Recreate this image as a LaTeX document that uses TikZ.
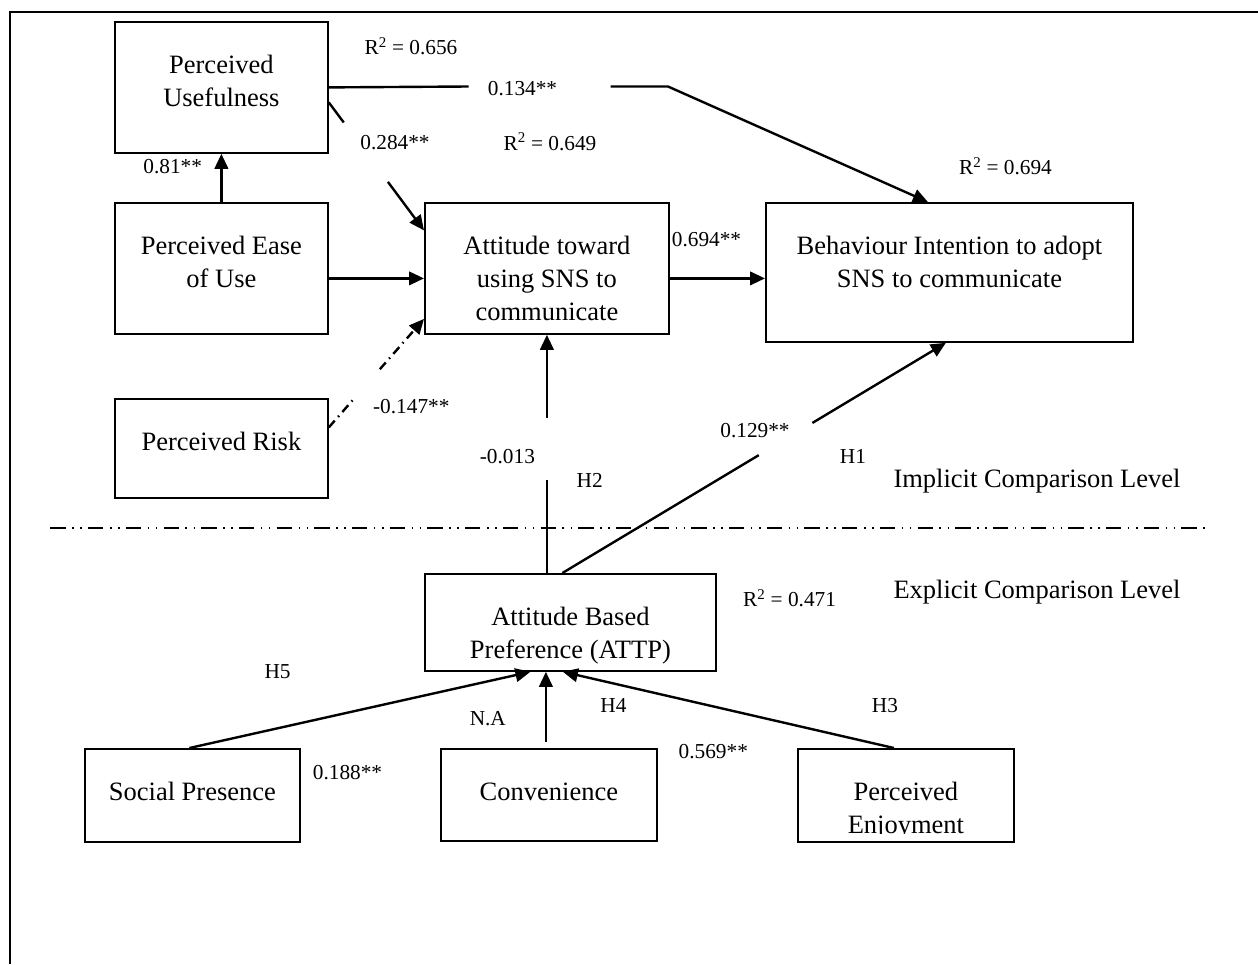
\documentclass[tikz,border=0pt]{standalone}
\usepackage{fontspec}
\setmainfont{Liberation Serif}
\usetikzlibrary{arrows.meta}
\newcommand\bigfnt{\fontsize{26.5pt}{32.7pt}\selectfont}
\newcommand\smlfnt{\fontsize{21.3pt}{25pt}\selectfont}
\newcommand\bxt[3]{\parbox[c][#2][t]{#1}{\centering\vspace*{29pt}\strut #3\par}}
\begin{document}
\begin{tikzpicture}[x=1pt,y=-1pt,
  bx/.style={draw, line width=1.8pt, inner sep=0pt, anchor=north west, font=\bigfnt},
  ln/.style={line width=2.4pt},
  arr/.style={line width=2.4pt, -{Triangle[length=15pt,width=13.5pt]}},
  lbl/.style={font=\smlfnt, inner sep=0pt, text height=14.5pt, text depth=0pt},
  lvl/.style={font=\bigfnt, inner sep=0pt, text height=18pt, text depth=0pt},
  dashdot/.style={line width=2.4pt, dash pattern=on 9pt off 5pt on 1.5pt off 5pt},
  sepline/.style={line width=2.2pt, dash pattern=on 15.3pt off 6.6pt on 1.5pt off 6.6pt on 1.5pt off 6.2pt}]
\useasboundingbox (0,0) rectangle (1258,964);

% outer frame (cropped)
\coordinate (fTR) at (1258,11.7);
\coordinate (fTL) at (9.8,11.7);
\coordinate (fBL) at (9.8,964);
\draw[line width=2.2pt] (fTR) -- (fTL) -- (fBL);

% boxes
\node[bx] (PU)   at (114,21)  {\bxt{213pt}{131pt}{Perceived\\Usefulness}};
\node[bx] (PEOU) at (114,202) {\bxt{213pt}{131pt}{Perceived Ease\\of Use}};
\node[bx] (Att)  at (424,202) {\bxt{244pt}{131pt}{Attitude toward\\using SNS to\\communicate}};
\node[bx] (BI)   at (765,202) {\bxt{367pt}{139pt}{Behaviour Intention to adopt\\SNS to communicate}};
\node[bx] (PR)   at (114,398) {\bxt{213pt}{99pt}{Perceived Risk}};
\node[bx] (ATTP) at (424,573) {\bxt{291pt}{97pt}{Attitude Based\\Preference (ATTP)}};
\node[bx] (SP)   at (84,748)  {\bxt{215pt}{93pt}{Social Presence}};
\node[bx] (Conv) at (440,748) {\bxt{216pt}{92pt}{Convenience}};
\begin{scope}
  \clip (770,735) rectangle (1040,833)
        (770,839) rectangle (1040,860)
        (770,833) rectangle (799,839)
        (1011,833) rectangle (1040,839);
  \node[bx] (PE) at (797,748) {\bxt{216pt}{93pt}{Perceived\\Enjoyment}};
\end{scope}

% separator between levels
\coordinate (s1) at (50.4,527.7);
\coordinate (s2) at (1205,527.7);
\draw[sepline] (s1) -- (s2);

% connectors
\draw[arr] (PEOU.north) -- (PU.south);
\draw[arr] ([yshift=-10pt]PEOU.east) -- ([yshift=-10pt]Att.west);
\draw[arr] ([yshift=-10pt]Att.east) -- ([yshift=-10pt]Att.east -| BI.west);

% PU -> BI with gap for label
\coordinate (g4a) at (468.7,86.5);
\coordinate (g4b) at (610.7,86.5);
\coordinate (k4) at (668,86.5);
\draw[ln] (PU.east) -- (g4a);
\draw[arr] (g4b) -- (k4) -- ([xshift=-21.5pt]BI.north);

% PU -> Att with gap
\path ([yshift=-15pt]PU.east) coordinate (a5) -- coordinate[pos=0.157] (g5a) coordinate[pos=0.621] (g5b) ([yshift=38pt]Att.west) coordinate (b5);
\draw[ln] (a5) -- (g5a);
\draw[arr] (g5b) -- (b5);

% PR -> Att (dash dot) with gap
\path ([yshift=21pt]PR.east) coordinate (a6) -- coordinate[pos=0.269] (g6a) coordinate[pos=0.536] (g6b) ([yshift=-50.5pt]Att.west) coordinate (b6);
\draw[dashdot] (a6) -- (g6a);
\draw[dashdot, -{Triangle[length=15pt,width=13.5pt]}] (g6b) -- (b6);

% ATTP -> Att with gap
\path (ATTP.north -| Att.south) coordinate (a7) -- coordinate[pos=0.39] (g7a) coordinate[pos=0.651] (g7b) (Att.south);
\draw[ln] (a7) -- (g7a);
\draw[arr] (g7b) -- (Att.south);

% ATTP -> BI with gap
\path ([xshift=-8pt]ATTP.north) coordinate (a8) -- coordinate[pos=0.512] (g8a) coordinate[pos=0.652] (g8b) ([xshift=-3.5pt]BI.south) coordinate (b8);
\draw[ln] (a8) -- (g8a);
\draw[arr] (g8b) -- (b8);

% into ATTP
\draw[arr] ([xshift=-3pt]SP.north) -- ([xshift=-40pt]ATTP.south);
\draw[arr] ([xshift=-3pt,yshift=6.5pt]Conv.north) -- ([xshift=-24.5pt]ATTP.south);
\draw[arr] ([xshift=-12pt]PE.north) -- ([xshift=-7.5pt]ATTP.south);

% labels
\node[lbl] (r656) at (411,47.7) {R\textsuperscript{2} = 0.656};
\node[lbl] (l134) at (522.5,88) {0.134**};
\node[lbl] (l284) at (395,142.7) {0.284**};
\node[lbl] (r649) at (550,143) {R\textsuperscript{2} = 0.649};
\node[lbl] (l81)  at (172.7,166.7) {0.81**};
\node[lbl] (r694) at (1005.5,167.7) {R\textsuperscript{2} = 0.694};
\node[lbl] (l694) at (706.5,239.3) {0.694**};
\node[lbl] (l147) at (411.3,406) {-0.147**};
\node[lbl] (l013) at (507.4,456) {-0.013};
\node[lbl] (h2)   at (589.7,480) {H2};
\node[lbl] (l129) at (755,430) {0.129**};
\node[lbl] (h1)   at (853,456) {H1};
\node[lvl] (impl) at (1037,478) {Implicit Comparison Level};
\node[lvl] (expl) at (1037,589.3) {Explicit Comparison Level};
\node[lbl] (r471) at (789.6,599.3) {R\textsuperscript{2} = 0.471};
\node[lbl] (h5)   at (277.6,671.7) {H5};
\node[lbl] (na)   at (487.8,718.3) {N.A};
\node[lbl] (h4)   at (613.4,705.7) {H4};
\node[lbl] (h3)   at (885,705.7) {H3};
\node[lbl] (l569) at (713.3,751) {0.569**};
\node[lbl] (l188) at (347.5,772.7) {0.188**};
\end{tikzpicture}
\end{document}
